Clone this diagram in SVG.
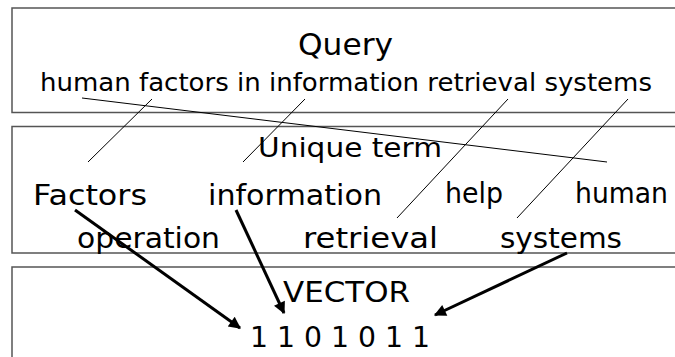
<svg xmlns="http://www.w3.org/2000/svg" width="675" height="357" viewBox="0 0 675 357">
<defs>
<style>
.box{fill:#fff;stroke:#555;stroke-width:1.5}
.t{font-family:"DejaVu Sans",sans-serif;fill:#000}
.thin{stroke:#000;stroke-width:1;fill:none}
.thick{stroke:#000;stroke-width:3;fill:none;marker-end:url(#ah)}
</style>
<marker id="ah" viewBox="0 0 10 10" refX="9" refY="5" markerWidth="5" markerHeight="4" markerUnits="strokeWidth" orient="auto">
<path d="M0,0 L10,5 L0,10 z" fill="#000"/>
</marker>
</defs>
<rect width="675" height="357" fill="#fff"/>
<g id="query">
<rect class="box" x="12" y="8" width="680" height="104.5"/>
<text class="t" x="298" y="55" font-size="30" textLength="95" lengthAdjust="spacingAndGlyphs">Query</text>
<text class="t" x="40" y="91" font-size="24" textLength="612" lengthAdjust="spacingAndGlyphs">human factors in information retrieval systems</text>
</g>
<g id="unique">
<rect class="box" x="12" y="126.5" width="680" height="126.5"/>
<text class="t" x="258" y="157" font-size="26" textLength="184" lengthAdjust="spacingAndGlyphs">Unique term</text>
<text class="t" x="33" y="205" font-size="28" textLength="114" lengthAdjust="spacingAndGlyphs">Factors</text>
<text class="t" x="208" y="205" font-size="28" textLength="174" lengthAdjust="spacingAndGlyphs">information</text>
<text class="t" x="445" y="203" font-size="28" textLength="58" lengthAdjust="spacingAndGlyphs">help</text>
<text class="t" x="575" y="203" font-size="28" textLength="93" lengthAdjust="spacingAndGlyphs">human</text>
<text class="t" x="77" y="248" font-size="28" textLength="143" lengthAdjust="spacingAndGlyphs">operation</text>
<text class="t" x="303" y="248" font-size="28" textLength="135" lengthAdjust="spacingAndGlyphs">retrieval</text>
<text class="t" x="500" y="248" font-size="28" textLength="122" lengthAdjust="spacingAndGlyphs">systems</text>
</g>
<g id="vector">
<rect class="box" x="12" y="267" width="680" height="110"/>
<text class="t" x="283" y="302" font-size="29" textLength="127" lengthAdjust="spacingAndGlyphs">VECTOR</text>
<text class="t" x="250" y="347" font-size="28" textLength="180" lengthAdjust="spacingAndGlyphs">1 1 0 1 0 1 1</text>
</g>
<g id="connectors">
<line class="thin" x1="82" y1="98" x2="607" y2="162"/>
<line class="thin" x1="152" y1="99" x2="88" y2="162"/>
<line class="thin" x1="305" y1="99" x2="243" y2="162"/>
<line class="thin" x1="508" y1="99" x2="397" y2="218"/>
<line class="thin" x1="628" y1="99" x2="517" y2="218"/>
<line class="thick" x1="75" y1="210" x2="240" y2="328"/>
<line class="thick" x1="236" y1="210" x2="284" y2="313"/>
<line class="thick" x1="567" y1="253" x2="435" y2="315"/>
</g>
</svg>
